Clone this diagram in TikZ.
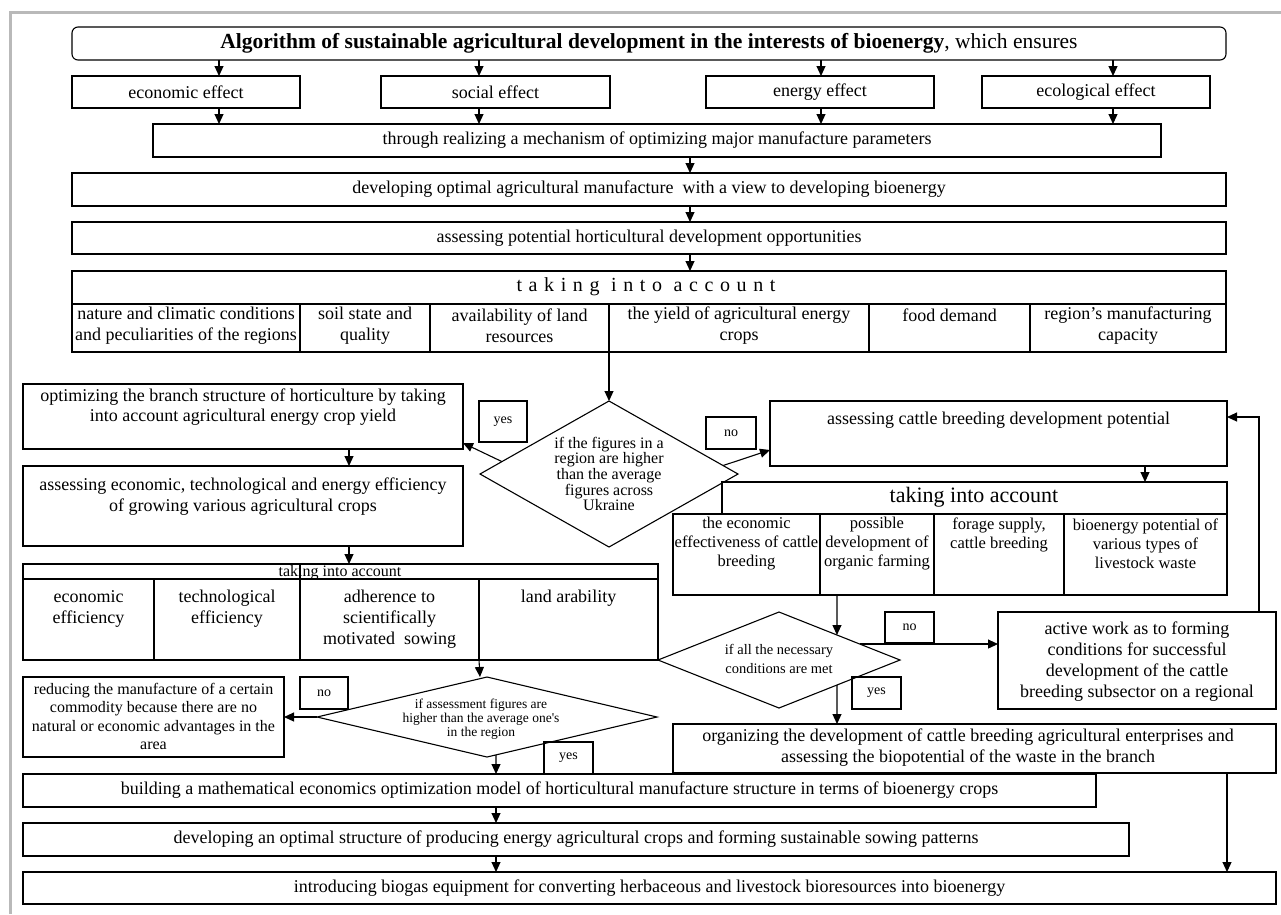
\documentclass[tikz,border=0pt]{standalone}
\usepackage{fontspec}
\setmainfont{Liberation Serif}
\usetikzlibrary{arrows.meta,shapes.geometric,calc}
\definecolor{framegray}{RGB}{185,185,185}
\newcommand{\fsz}[2]{\fontsize{#1}{#2}\selectfont}
\tikzset{
  frame/.style={draw=black, line width=1.1pt, inner sep=0pt, outer sep=0pt, align=center, font=\fsz{18}{21}},
  txt/.style={inner sep=0pt, outer sep=0pt, align=center, text=black},
  arr/.style={draw=black, line width=1.1pt, -{Triangle[length=10pt,width=9pt]}},
  ln/.style={draw=black, line width=1.1pt},
  dia/.style={diamond, draw=black, line width=1.1pt, inner sep=0pt, outer sep=0pt},
  lbl/.style={frame, font=\fsz{14}{16}},
}
\newcommand{\fr}[7][]{\node[frame,#1,minimum width={#5-#3},minimum height={#6-#4}] (#2) at ({(#3+#5)/2},{(#4+#6)/2}) {#7};}
\begin{document}
\begin{tikzpicture}[x=1pt,y=-1pt]
\useasboundingbox (0,0) rectangle (1281,914);
% outer frame
\draw[line width=3pt, draw=framegray] (10,914) -- (10,12) -- (1281,12);

% x positions of connectors
\coordinate (xa) at (219,0);
\coordinate (xb) at (479,0);
\coordinate (xc) at (821,0);
\coordinate (xd) at (1113,0);
\coordinate (xe) at (690,0);
\coordinate (xf) at (609,0);
\coordinate (xg) at (349,0);
\coordinate (xh) at (480,0);
\coordinate (xi) at (496,0);
\coordinate (xj) at (1145,0);
\coordinate (xk) at (837,0);
\coordinate (xl) at (1227,0);
\coordinate (fb) at (1259,417);

% top part
\fr[rounded corners=6pt, font=\fsz{21.5}{24}]{title}{72}{27}{1226}{60}{\textbf{Algorithm of sustainable agricultural development in the interests of bioenergy}, which ensures}
\fr{econ}{72}{76}{300}{108}{economic effect}
\fr{soc}{381}{76}{610}{108}{social effect}
\fr{ene}{706}{76}{934}{108}{energy effect}
\fr{eco}{982}{76}{1210}{108}{ecological effect}
\fr{thr}{153}{124}{1161}{157}{through realizing a mechanism of optimizing major manufacture parameters}
\fr{dev}{72}{173}{1226}{206}{developing optimal agricultural manufacture~ with a view to developing bioenergy}
\fr{ass}{72}{222}{1226}{254}{assessing potential horticultural development opportunities}

% table 1
\fr{tah}{72}{271}{1226}{304}{}
\node[txt, font={\fsz{20}{22}\addfontfeature{LetterSpace=33}}] (taht) at (646,287) {taking into account};
\fr{taa}{72}{304}{300}{352}{}
\fr{tab}{300}{304}{430}{352}{}
\fr{tac}{430}{304}{609}{352}{}
\fr{tad}{609}{304}{869}{352}{}
\fr{tae}{869}{304}{1030}{352}{}
\fr{taf}{1030}{304}{1226}{352}{}
\node[txt, font=\fsz{18}{21}] (taat) at (186,326) {nature and climatic conditions\\and peculiarities of the regions};
\node[txt, font=\fsz{18}{21}] (tabt) at (365,326) {soil state and\\quality};
\node[txt, font=\fsz{18}{21}] (tact) at (519.5,326) {availability of land\\resources};
\node[txt, font=\fsz{18}{21}] (tadt) at (739,326) {the yield of agricultural energy\\crops};
\node[txt, font=\fsz{18}{21}] (taet) at (949.5,315) {food demand};
\node[txt, font=\fsz{18}{21}] (taft) at (1128,326) {region’s manufacturing\\capacity};

% decision 1
\node[dia, minimum width=258, minimum height=146] (d1) at (609,474) {};
\node[txt, font=\fsz{16}{14.3}] (d1t) at (609,474) {if the figures in a\\region are higher\\than the average\\figures across\\Ukraine};
\fr[lbl]{y1}{479}{401}{527}{442}{yes}
\fr[lbl]{n1}{706}{417}{756}{449}{no}

% left branch
\fr{opt}{23}{384}{463}{449}{}
\node[txt, font=\fsz{18}{20.5}] (optt) at (243,407) {optimizing the branch structure of horticulture by taking\\into account agricultural energy crop yield};
\fr{ase}{23}{466}{463}{546}{}
\node[txt, font=\fsz{18}{21}] (aset) at (243,496.5) {assessing economic, technological and energy efficiency\\of growing various agricultural crops};

% table 2
\fr{tbh}{23}{564}{658}{579}{}
\node[txt, font=\fsz{16}{18}] (tbht) at (340,573) {taking into account};
\fr{tba}{23}{579}{154}{660}{}
\fr{tbb}{154}{579}{300}{660}{}
\fr{tbc}{300}{579}{479}{660}{}
\fr{tbd}{479}{579}{658}{660}{}
\draw[ln] (tbc.north west) -- (tbc.north west |- tbh.north);
\node[txt, font=\fsz{18}{21}] (tbat) at (88.5,608.5) {economic\\efficiency};
\node[txt, font=\fsz{18}{21}] (tbbt) at (227,608.5) {technological\\efficiency};
\node[txt, font=\fsz{18}{21}] (tbct) at (389.5,619) {adherence to\\scientifically\\motivated~ sowing};
\node[txt, font=\fsz{18}{21}] (tbdt) at (568.5,598) {land arability};

% decision 2
\node[dia, minimum width=340, minimum height=80] (d2) at (487,717) {};
\node[txt, font=\fsz{13.5}{14}] (d2t) at (481,719) {if assessment figures are\\higher than the average one\textquotesingle s\\in the region};
\fr[lbl]{n2}{300}{677}{348}{709}{no}
\fr[lbl]{y2}{544}{742}{593}{774}{yes}
\fr{red}{23}{677}{284}{757}{}
\node[txt, font=\fsz{16}{18.5}] (redt) at (153.5,716.5) {reducing the manufacture of a certain\\commodity because there are no\\natural or economic advantages in the\\area};

% bottom boxes
\fr{bld}{23}{774}{1096}{807}{building a mathematical economics optimization model of horticultural manufacture structure in terms of bioenergy crops}
\fr{dvs}{23}{823}{1129}{856}{developing an optimal structure of producing energy agricultural crops and forming sustainable sowing patterns}
\fr{intro}{23}{872}{1276}{904}{introducing biogas equipment for converting herbaceous and livestock bioresources into bioenergy}

% right branch
\fr{cat}{770}{401}{1227}{466}{}
\node[txt, font=\fsz{18}{21}] (catt) at (998.5,420) {assessing cattle breeding development potential};
\fr{tch}{722}{482}{1227}{514}{}
\node[txt, font=\fsz{22}{24}] (tcht) at (974,497) {taking into account};
\fr{tca}{673}{514}{820}{595}{}
\fr{tcb}{820}{514}{934}{595}{}
\fr{tcc}{934}{514}{1064}{595}{}
\fr{tcd}{1064}{514}{1227}{595}{}
\node[txt, font=\fsz{16.5}{19}] (tcat) at (746.5,544) {the economic\\effectiveness of cattle\\breeding};
\node[txt, font=\fsz{16.5}{19}] (tcbt) at (877,544) {possible\\development of\\organic farming};
\node[txt, font=\fsz{16.5}{19}] (tcct) at (999,534.5) {forage supply,\\cattle breeding};
\node[txt, font=\fsz{16.5}{19}] (tcdt) at (1145.5,544) {bioenergy potential of\\various types of\\livestock waste};

% decision 3
\node[dia, minimum width=242, minimum height=96] (d3) at (779,660) {};
\node[txt, font=\fsz{14.5}{19}] (d3t) at (779,658.5) {if all the necessary\\conditions are met};
\fr[lbl]{n3}{885}{612}{934}{643}{no}
\fr[lbl]{y3}{852}{677}{901}{709}{yes}
\fr{act}{998}{612}{1276}{709}{}
\node[txt, font=\fsz{18}{21}] (actt) at (1137,661.5) {active work as to forming\\conditions for successful\\development of the cattle\\breeding subsector on a regional};
\fr{org}{673}{724}{1276}{773}{}
\node[txt, font=\fsz{18}{21}] (orgt) at (968,748) {organizing the development of cattle breeding agricultural enterprises and\\assessing the biopotential of the waste in the branch};

% connectors
\draw[arr] (title.south -| xa) -- (econ.north -| xa);
\draw[arr] (title.south -| xb) -- (soc.north -| xb);
\draw[arr] (title.south -| xc) -- (ene.north -| xc);
\draw[arr] (title.south -| xd) -- (eco.north -| xd);
\draw[arr] (econ.south -| xa) -- (thr.north -| xa);
\draw[arr] (soc.south -| xb) -- (thr.north -| xb);
\draw[arr] (ene.south -| xc) -- (thr.north -| xc);
\draw[arr] (eco.south -| xd) -- (thr.north -| xd);
\draw[arr] (thr.south -| xe) -- (dev.north -| xe);
\draw[arr] (dev.south -| xe) -- (ass.north -| xe);
\draw[arr] (ass.south -| xe) -- (tah.north -| xe);
\draw[arr] (tac.south east) -- (d1.north);
\draw[arr] ($(d1.west)!0.17!(d1.north)$) -- ([yshift=6pt]opt.south east);
\draw[arr] ($(d1.north)!0.884!(d1.east)$) -- ([yshift=16pt]cat.south west);
\draw[arr] (opt.south -| xg) -- (ase.north -| xg);
\draw[arr] (ase.south -| xg) -- (tbh.north -| xg);
\draw[arr] (tbd.south west) -- (d2.north -| xh);
\draw[arr] (d2.west) -- (d2.west -| red.east);
\draw[arr] ($(d2.south)!0.053!(d2.east)$) -- (bld.north -| xi);
\draw[arr] (bld.south -| xi) -- (dvs.north -| xi);
\draw[arr] (dvs.south -| xi) -- (intro.north -| xi);
\draw[arr] (cat.south -| xj) -- (tch.north -| xj);
\draw[arr] (tcb.south -| xk) -- ($(d3.north)!0.479!(d3.east)$);
\coordinate (d3no) at ($(d3.north)!0.667!(d3.east)$);
\draw[arr] (d3no) -- (d3no -| act.west);
\draw[arr] (act.north -| fb) -- (fb) -- (fb -| cat.east);
\draw[arr] ($(d3.south)!0.479!(d3.east)$) -- (org.north -| xk);
\draw[arr] (org.south -| xl) -- (intro.north -| xl);
\end{tikzpicture}
\end{document}
